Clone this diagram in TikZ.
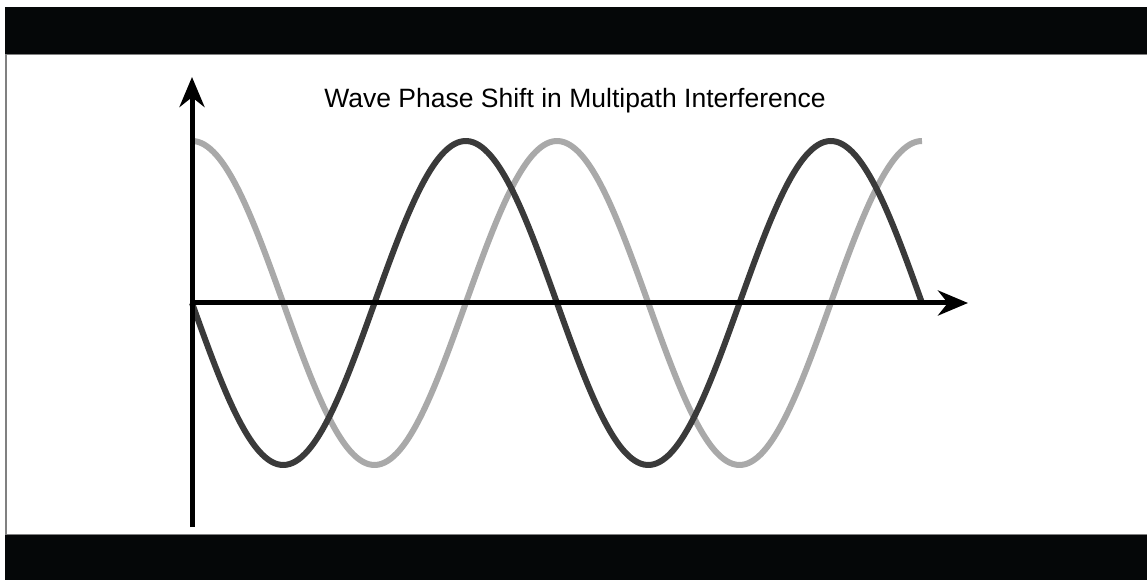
\documentclass[tikz,border=0pt]{standalone}
\usepackage{fontspec}
\setmainfont{Liberation Sans}
\usetikzlibrary{arrows.meta}

\definecolor{barblack}{HTML}{050708}
\definecolor{wavegray}{HTML}{A9A9A9}
\definecolor{wavedark}{HTML}{3A3A3A}

\tikzset{
  axisline/.style={line width=5pt, black},
  wave/.style={line width=6pt, smooth, samples=240}
}

\begin{document}
\begin{tikzpicture}[x=1pt, y=1pt, >={Stealth[length=30pt, width=25pt]}]
    \useasboundingbox (0,0) rectangle (1147,581);
    \fill[white] (0,0) rectangle (1147,581);

    % frame and black bars
    \draw[gray, line width=1.2pt] (6,46) rectangle (1150,527);
    \fill[barblack] (5,527) rectangle (1147,574);
    \fill[barblack] (5,1) rectangle (1147,46);

    \coordinate (origin) at (192,278);
    \coordinate (ybot) at (192,54);
    \coordinate (ytop) at (192,504);
    \coordinate (xend) at (968,278);

    % the two paths, one period = 365pt
    \draw[wave, wavegray] plot[domain=0:730]
        ({192+\x}, {278+162*cos(0.98630*\x)});
    \draw[wave, wavedark] plot[domain=0:730]
        ({192+\x}, {278-162*sin(0.98630*\x)});

    \draw[axisline, ->] (ybot) -- (ytop);
    \draw[axisline, ->] (origin) -- (xend);

    \node[anchor=base, font=\fontsize{26.5}{30}\selectfont] (title) at (575,473)
        {Wave Phase Shift in Multipath Interference};
\end{tikzpicture}
\end{document}
